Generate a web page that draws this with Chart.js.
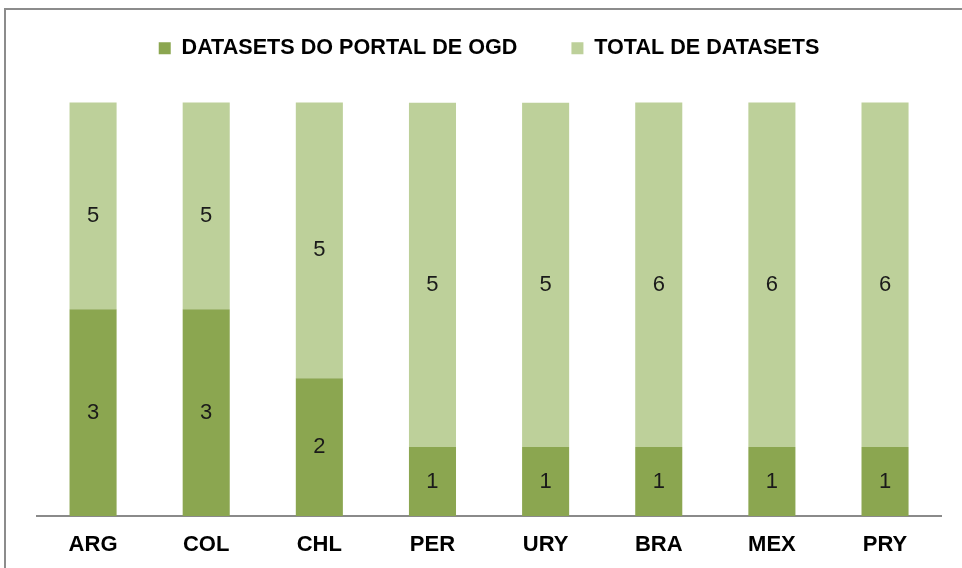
<!DOCTYPE html>
<html>
<head>
<meta charset="utf-8">
<script src="https://cdn.jsdelivr.net/npm/chart.js@4"></script>
<style>
  html, body { margin: 0; padding: 0; background: #fff; }
  #wrap { width: 962px; height: 568px; position: relative; }
</style>
</head>
<body>
<div id="wrap"><canvas id="datasetsChart"></canvas></div>
<script>
const countries = ['ARG', 'COL', 'CHL', 'PER', 'URY', 'BRA', 'MEX', 'PRY'];
const portalDatasets = [3, 3, 2, 1, 1, 1, 1, 1];
const totalDatasets = [5, 5, 5, 5, 5, 6, 6, 6];
const axisMax = 6;

// frame around the whole chart, like the Excel chart border
const framePlugin = {
  id: 'frame',
  beforeDraw(chart) {
    const c = chart.ctx;
    c.save();
    c.strokeStyle = '#8c8c8c';
    c.lineWidth = 2;
    c.strokeRect(5, 9, 1000, 600);
    c.restore();
  }
};

// extra room between legend and bars
const legendGap = {
  id: 'legendGap',
  beforeLayout(chart) {
    const lg = chart.legend;
    if (lg && !lg._gapPatched) {
      const fit = lg.fit;
      lg.fit = function () {
        fit.call(this);
        this.height += 33.5;
      };
      lg._gapPatched = true;
    }
  }
};

// value labels in the middle of the visible part of each segment
const valueLabels = {
  id: 'valueLabels',
  afterDatasetsDraw(chart) {
    const c = chart.ctx;
    const area = chart.chartArea;
    c.save();
    c.font = '22px "Liberation Sans", Arial, sans-serif';
    c.fillStyle = '#1a1a1a';
    c.textAlign = 'center';
    c.textBaseline = 'middle';
    chart.data.datasets.forEach((ds, i) => {
      const meta = chart.getDatasetMeta(i);
      meta.data.forEach((bar, j) => {
        const top = Math.max(bar.y, area.top);
        const bottom = Math.min(bar.base, area.bottom);
        let y = (top + bottom) / 2;
        if (i === 1) y += 10;
        c.fillText(String(ds.data[j]), bar.x, y);
      });
    });
    c.restore();
  }
};

const ctx = document.getElementById('datasetsChart').getContext('2d');
const datasetsChart = new Chart(ctx, {
  type: 'bar',
  data: {
    labels: countries,
    datasets: [
      {
        label: 'DATASETS DO PORTAL DE OGD',
        data: portalDatasets,
        backgroundColor: '#8ba650',
        categoryPercentage: 1,
        barPercentage: 0.416,
      },
      {
        label: 'TOTAL DE DATASETS',
        data: totalDatasets,
        backgroundColor: '#bdd09a',
        categoryPercentage: 1,
        barPercentage: 0.416,
      },
    ],
  },
  options: {
    responsive: true,
    maintainAspectRatio: false,
    animation: false,
    layout: {
      padding: { left: 36.5, right: 20.4, top: -16.5, bottom: 0 },
    },
    scales: {
      x: {
        stacked: true,
        grid: { display: false, drawTicks: false },
        border: { display: true, color: '#8a8a8a', width: 2 },
        ticks: {
          color: '#000',
          padding: 16,
          font: { family: '"Liberation Sans", Arial, sans-serif', size: 22, weight: 'bold' },
        },
        afterFit(scale) {
          scale.height = 52;
        },
      },
      y: {
        stacked: true,
        display: false,
        min: 0,
        max: axisMax,
      },
    },
    plugins: {
      legend: {
        display: true,
        position: 'top',
        labels: {
          boxWidth: 12,
          boxHeight: 12,
          padding: 54,
          color: '#000',
          font: { family: '"Liberation Sans", Arial, sans-serif', size: 21.6, weight: 'bold' },
        },
      },
      tooltip: { enabled: false },
    },
  },
  plugins: [framePlugin, legendGap, valueLabels],
});
</script>
</body>
</html>
